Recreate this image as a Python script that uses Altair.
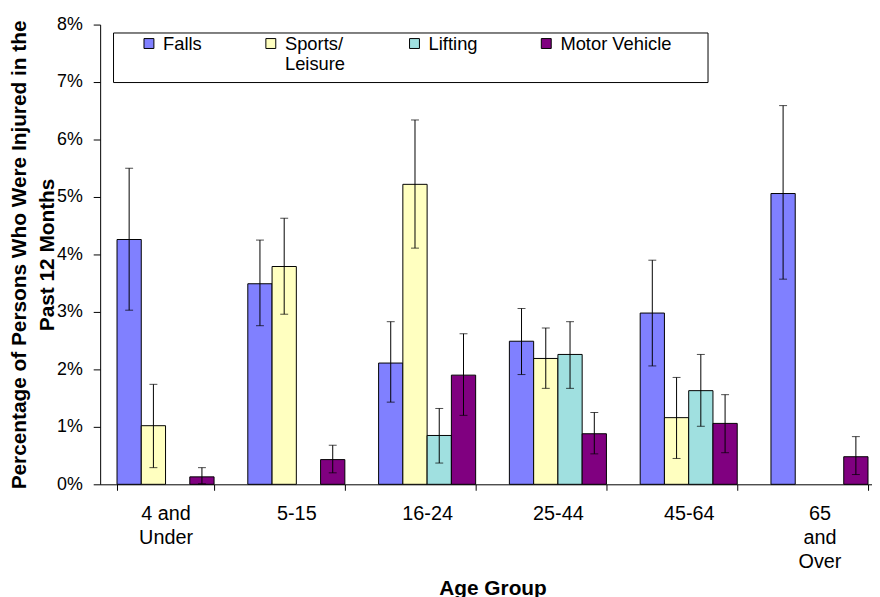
import altair as alt
import pandas as pd

# ---- data (percent of persons injured) ----
ages = ["4 and Under", "5-15", "16-24", "25-44", "45-64", "65 and Over"]
causes = ["Falls", "Sports/Leisure", "Lifting", "Motor Vehicle"]
colors = ["#8080FF", "#FFFFC0", "#A0E0E0", "#800080"]

falls = [4.26, 3.49, 2.11, 2.49, 2.98, 5.06]
falls_lo = [3.03, 2.76, 1.43, 1.91, 2.06, 3.57]
falls_hi = [5.50, 4.25, 2.83, 3.06, 3.90, 6.59]

sports = [1.02, 3.79, 5.22, 2.19, 1.16, None]
sports_lo = [0.29, 2.96, 4.11, 1.67, 0.45, None]
sports_hi = [1.74, 4.63, 6.34, 2.72, 1.86, None]

lifting = [None, None, 0.85, 2.26, 1.63, None]
lifting_lo = [None, None, 0.37, 1.67, 1.01, None]
lifting_hi = [None, None, 1.32, 2.83, 2.26, None]

motor = [0.13, 0.43, 1.90, 0.88, 1.06, 0.48]
motor_lo = [0.01, 0.20, 1.20, 0.53, 0.55, 0.17]
motor_hi = [0.29, 0.68, 2.62, 1.25, 1.56, 0.83]

series = [
    (causes[0], falls, falls_lo, falls_hi),
    (causes[1], sports, sports_lo, sports_hi),
    (causes[2], lifting, lifting_lo, lifting_hi),
    (causes[3], motor, motor_lo, motor_hi),
]
rows = []
for cause, vals, los, his in series:
    for age, v, lo, hi in zip(ages, vals, los, his):
        if v is None:
            continue
        rows.append(dict(age=age, cause=cause, value=v / 100, lo=lo / 100, hi=hi / 100))
df = pd.DataFrame(rows)

FONT = "Liberation Sans"
PAD = "\u2800" * 2  # blank (non-whitespace) filler to widen the legend box on the right

x_enc = alt.X(
    "age:N",
    sort=ages,
    scale=alt.Scale(domain=ages, paddingInner=0.258, paddingOuter=0.129),
    axis=alt.Axis(
        title="Age Group",
        labelAngle=0,
        labelExpr="datum.value == '4 and Under' ? ['4 and', 'Under'] : "
                  "datum.value == '65 and Over' ? ['65', 'and', 'Over'] : datum.value",
        labelLineHeight=24,
        labelFont=FONT,
        labelFontSize=20,
        labelColor="black",
        labelPadding=14,
        tickBand="extent",
        tickSize=6,
        tickColor="black",
        domainColor="black",
        titleFont=FONT,
        titleFontSize=21,
        titleFontWeight="bold",
        titleColor="black",
        titlePadding=6,
    ),
)
xo_enc = alt.XOffset("cause:N", sort=causes,
                     scale=alt.Scale(domain=causes, paddingInner=0, paddingOuter=0))

y_axis = alt.Axis(
    title=["Percentage of Persons Who Were Injured in the", "Past 12 Months"],
    format=".0%",
    values=[0, 0.01, 0.02, 0.03, 0.04, 0.05, 0.06, 0.07, 0.08],
    grid=False,
    labelFont=FONT,
    labelFontSize=18,
    labelColor="black",
    labelPadding=11,
    tickSize=7,
    tickColor="black",
    domainColor="black",
    titleFont=FONT,
    titleFontSize=21,
    titleFontWeight="bold",
    titleColor="black",
    titleLineHeight=28,
    titlePadding=-1,
)
y_scale = alt.Scale(domain=[0, 0.08], nice=False)
YT = y_axis.title

legend = alt.Legend(
    title=" ",
    titleOrient="left",
    titlePadding=19,
    titleFontSize=17,
    orient="none",
    legendX=13,
    legendY=8,
    direction="horizontal",
    columns=4,
    columnPadding=60,
    strokeColor="black",
    fillColor="white",
    padding=8,
    labelFont=FONT,
    labelFontSize=18.5,
    labelColor="black",
    labelLimit=400,
    labelOffset=5,
    labelBaseline="alphabetic",
    labelExpr="datum.label == 'Sports/Leisure' ? ['Sports/', 'Leisure'] : "
              "datum.label == 'Motor Vehicle' ? ['Motor Vehicle" + PAD + "', ' '] : "
              "[datum.label, ' ']",
    symbolType="M-1,-2.3H1V-0.3H-1Z",
    symbolSize=100,
    symbolStrokeColor="black",
    symbolStrokeWidth=1,
)

color_enc = alt.Color("cause:N", sort=causes,
                      scale=alt.Scale(domain=causes, range=colors), legend=legend)

base = alt.Chart(df)

bars = base.mark_bar(stroke="black", strokeWidth=1).encode(
    x=x_enc, xOffset=xo_enc,
    y=alt.Y("value:Q", scale=y_scale, axis=y_axis, title=YT),
    color=color_enc,
)
err = base.mark_rule(color="black", strokeWidth=1).encode(
    x=x_enc, xOffset=xo_enc,
    y=alt.Y("lo:Q", scale=y_scale, title=YT), y2="hi:Q",
)
cap_hi = base.mark_tick(color="black", thickness=1, size=8).encode(
    x=x_enc, xOffset=xo_enc, y=alt.Y("hi:Q", scale=y_scale, title=YT),
)
cap_lo = base.mark_tick(color="black", thickness=1, size=8).encode(
    x=x_enc, xOffset=xo_enc, y=alt.Y("lo:Q", scale=y_scale, title=YT),
)

chart = (
    alt.layer(bars, err, cap_hi, cap_lo)
    .properties(
        width=792,
        height=464,
        autosize=alt.AutoSizeParams(type="none"),
        padding={"left": 93, "top": 14, "right": -13, "bottom": 111},
        background="white",
    )
    .configure_view(stroke=None)
)

chart.save("out.html", embed_options={"renderer": "svg", "actions": False})
